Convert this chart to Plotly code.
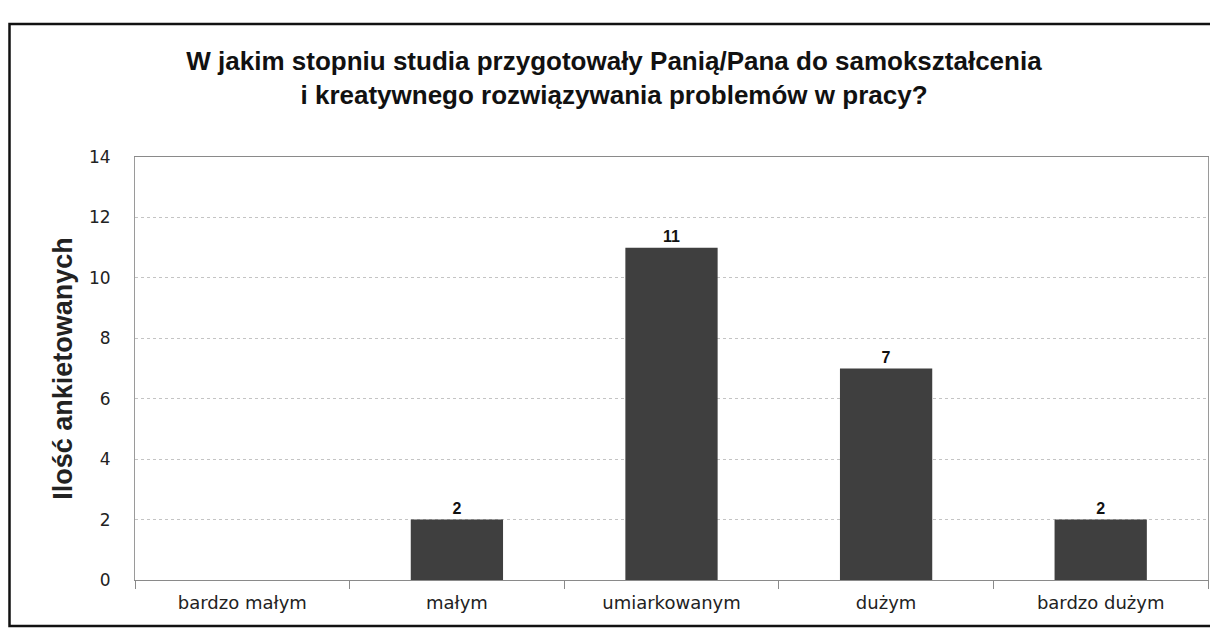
import plotly.graph_objects as go

categories = ["bardzo małym", "małym", "umiarkowanym", "dużym", "bardzo dużym"]
counts = [0, 2, 11, 7, 2]
labels = ["", "2", "11", "7", "2"]
y_ticks = [0, 2, 4, 6, 8, 10, 12, 14]

# the page body adds an 8px offset, so the figure is sized/positioned to compensate
W, H = 1210, 624
L, R, T, B = 127, 10, 149, 52
PW, PH = W - L - R, H - T - B

fig = go.Figure()
fig.add_trace(go.Bar(
    x=categories, y=counts,
    marker=dict(color="#3f3f3f", line=dict(width=0)),
    text=labels, textposition="outside",
    textfont=dict(family="Liberation Sans, Arial", size=16, color="#111111", weight="bold"),
    cliponaxis=False,
))

fig.update_layout(
    width=W, height=H,
    paper_bgcolor="white", plot_bgcolor="white",
    margin=dict(l=L, r=R, t=T, b=B),
    bargap=0.57,
    showlegend=False,
    title=dict(
        text="<b>W jakim stopniu studia przygotowały Panią/Pana do samokształcenia<br>i kreatywnego rozwiązywania problemów w pracy?</b>",
        x=(614 - 8) / W, xanchor="center", y=1 - (70 - 8) / H, yanchor="middle", yref="container",
        font=dict(family="Liberation Sans, Arial", size=26, color="#111111"),
    ),
    font=dict(family="DejaVu Sans", color="#222222"),
)

fig.update_yaxes(
    range=[0, 14], tickvals=y_ticks,
    showgrid=True, gridcolor="#c4c4c4", griddash="dot", gridwidth=1,
    showline=True, linecolor="#9a9a9a", linewidth=1, mirror=True,
    ticks="", ticklabelstandoff=20,
    tickfont=dict(family="DejaVu Sans", size=17, color="#222222"),
    title=dict(text="<b>Ilość ankietowanych</b>", standoff=8,
               font=dict(family="Liberation Sans, Arial", size=27, color="#222222")),
    zeroline=False,
)
fig.update_xaxes(
    showline=True, linecolor="#8a8a8a", linewidth=1, mirror=True,
    ticks="outside", tickson="boundaries", ticklen=8, tickcolor="#8a8a8a",
    ticklabelstandoff=6,
    tickfont=dict(family="DejaVu Sans", size=18, color="#222222"),
)

# outer frame of the chart
fig.add_shape(type="rect", xref="paper", yref="paper",
              x0=(1.5 - L) / PW, x1=(1208.5 - L) / PW,
              y0=(H - B - 618) / PH, y1=(H - B - 16) / PH,
              line=dict(color="#111111", width=2.5), fillcolor="rgba(0,0,0,0)", layer="below")

fig.write_html("out.html")
